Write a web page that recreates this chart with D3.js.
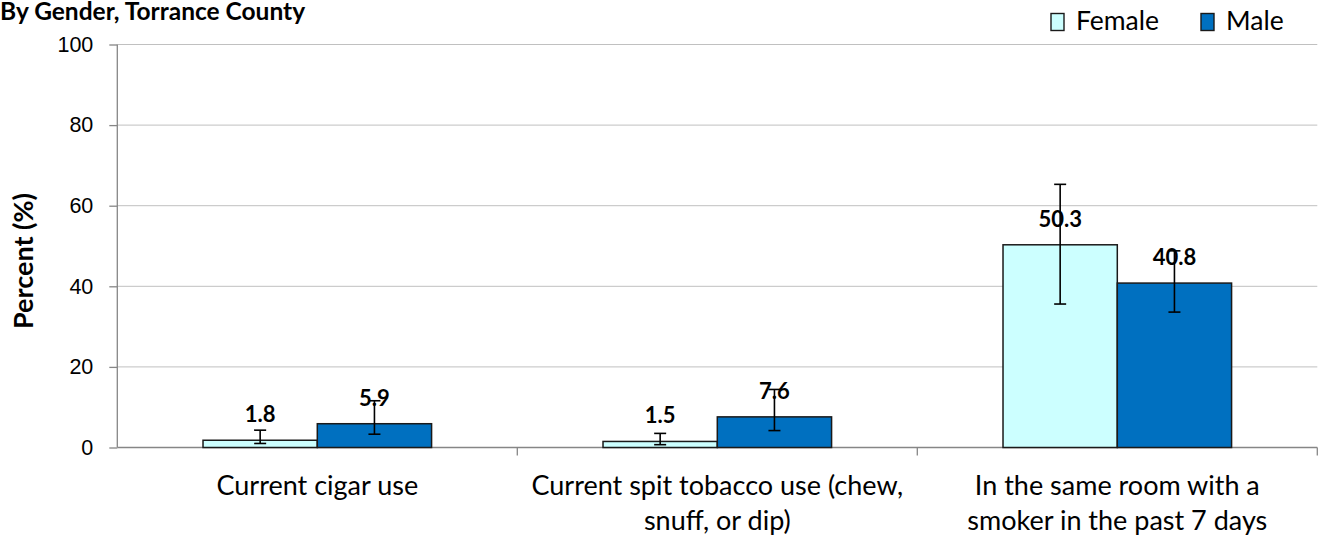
<!DOCTYPE html>
<html lang="en">
<head>
<meta charset="UTF-8">
<title>By Gender, Torrance County</title>
<style>
  body { margin: 0; background: #fff; }
  svg { font-family: Lato, "Open Sans", sans-serif; }
  .grid line { stroke: #c0c0c0; stroke-width: 1px; }
  .axis path, .axis line { stroke: #868686; stroke-width: 1.3px; }
  .axis text { font-size: 21.5px; fill: #000; }
</style>
</head>
<body>
<script src="https://d3js.org/d3.v7.min.js"></script>
<script>
// data
var categories = [
  ["Current cigar use"],
  ["Current spit tobacco use (chew,", "snuff, or dip)"],
  ["In the same room with a", "smoker in the past 7 days"]
];
var seriesNames = ["Female", "Male"];
var female = [1.8, 1.5, 50.3];
var male = [5.9, 7.6, 40.8];
var femaleLow = [1.0, 0.7, 35.6];
var femaleHigh = [4.3, 3.5, 65.3];
var maleLow = [3.3, 4.2, 33.6];
var maleHigh = [11.6, 14.4, 48.8];
var yTicks = [0, 20, 40, 60, 80, 100];
var colors = ["#ccffff", "#0070c0"];

var W = 1318, H = 539;
var margin = { top: 44.5, right: 0.7, bottom: 91.5, left: 117.3 };
var width = W - margin.left - margin.right,
    height = H - margin.top - margin.bottom;

var svg = d3.select("body").append("svg")
  .attr("width", W).attr("height", H);

var g = svg.append("g")
  .attr("transform", "translate(" + margin.left + "," + margin.top + ")");

var x0 = d3.scaleBand().domain(d3.range(categories.length)).range([0, width]).paddingInner(0).paddingOuter(0);
var x1 = d3.scaleBand().domain(seriesNames).range([0, x0.bandwidth()]).paddingInner(0).paddingOuter(0.75);
var y = d3.scaleLinear().domain([0, 100]).range([height, 0]);

// gridlines
g.append("g").attr("class", "grid")
  .selectAll("line").data(yTicks.slice(1)).enter().append("line")
  .attr("x1", 0).attr("x2", width)
  .attr("y1", function(d) { return y(d); }).attr("y2", function(d) { return y(d); });

// y axis
g.append("g").attr("class", "axis")
  .call(d3.axisLeft(y).tickValues(yTicks).tickSize(8).tickPadding(16).tickFormat(d3.format("d")))
  .call(function(a) { a.select(".domain").attr("d", "M0," + height + "V0"); });

// x axis line with category ticks
var xAxis = g.append("g").attr("class", "axis")
  .attr("transform", "translate(0," + height + ")");
xAxis.append("line").attr("x1", 0).attr("x2", width).attr("y1", 0).attr("y2", 0);
xAxis.selectAll(".xt").data(d3.range(categories.length)).enter().append("line")
  .attr("class", "xt")
  .attr("x1", function(d) { return x0(d) + x0.bandwidth(); })
  .attr("x2", function(d) { return x0(d) + x0.bandwidth(); })
  .attr("y1", 0).attr("y2", 8);

var rows = categories.map(function(c, i) {
  return [
    { s: "Female", v: female[i], lo: femaleLow[i], hi: femaleHigh[i], c: colors[0] },
    { s: "Male", v: male[i], lo: maleLow[i], hi: maleHigh[i], c: colors[1] }
  ];
});

var grp = g.selectAll(".cat").data(rows).enter().append("g")
  .attr("class", "cat")
  .attr("transform", function(d, i) { return "translate(" + x0(i) + ",0)"; });

grp.selectAll("rect").data(function(d) { return d; }).enter().append("rect")
  .attr("x", function(d) { return x1(d.s); })
  .attr("width", x1.bandwidth())
  .attr("y", function(d) { return y(d.v); })
  .attr("height", function(d) { return height - y(d.v); })
  .attr("fill", function(d) { return d.c; })
  .attr("stroke", "#1a1a1a").attr("stroke-width", 1.5);

// error bars
var eb = grp.selectAll(".eb").data(function(d) { return d; }).enter().append("g").attr("class", "eb");
eb.append("line")
  .attr("x1", function(d) { return x1(d.s) + x1.bandwidth() / 2; })
  .attr("x2", function(d) { return x1(d.s) + x1.bandwidth() / 2; })
  .attr("y1", function(d) { return y(d.lo); })
  .attr("y2", function(d) { return y(d.hi); })
  .attr("stroke", "#000").attr("stroke-width", 1.6);
["lo", "hi"].forEach(function(k) {
  eb.append("line")
    .attr("x1", function(d) { return x1(d.s) + x1.bandwidth() / 2 - 6; })
    .attr("x2", function(d) { return x1(d.s) + x1.bandwidth() / 2 + 6; })
    .attr("y1", function(d) { return y(d[k]); })
    .attr("y2", function(d) { return y(d[k]); })
    .attr("stroke", "#000").attr("stroke-width", 1.6);
});

// value labels
grp.selectAll(".lbl").data(function(d) { return d; }).enter().append("text")
  .attr("class", "lbl")
  .attr("x", function(d) { return x1(d.s) + x1.bandwidth() / 2; })
  .attr("y", function(d) { return y(d.v) - 18; })
  .attr("text-anchor", "middle")
  .attr("font-size", "22px").attr("font-weight", "bold")
  .text(function(d) { return d.v.toFixed(1); });

// category labels
var cl = g.selectAll(".cl").data(categories).enter().append("text")
  .attr("class", "cl")
  .attr("text-anchor", "middle")
  .attr("font-size", "27px")
  .attr("transform", function(d, i) { return "translate(" + (x0(i) + x0.bandwidth() / 2) + "," + (height + 47.5) + ")"; });
cl.selectAll("tspan").data(function(d) { return d; }).enter().append("tspan")
  .attr("x", 0)
  .attr("dy", function(d, i) { return i === 0 ? 0 : 35; })
  .text(function(d) { return d; });

// y axis title
svg.append("text")
  .attr("transform", "translate(33,261) rotate(-90)")
  .attr("text-anchor", "middle")
  .attr("font-size", "27px").attr("font-weight", "bold")
  .text("Percent (%)");

// title
svg.append("text")
  .attr("x", 0).attr("y", 19.5)
  .attr("font-size", "24.5px").attr("font-weight", "bold")
  .text("By Gender, Torrance County");

// legend
var legX = [1051, 1201];
var leg = svg.selectAll(".leg").data(seriesNames).enter().append("g")
  .attr("class", "leg")
  .attr("transform", function(d, i) { return "translate(" + legX[i] + ",13.5)"; });
leg.append("rect").attr("width", 13).attr("height", 17)
  .attr("fill", function(d, i) { return colors[i]; })
  .attr("stroke", "#1a1a1a").attr("stroke-width", 1.4);
leg.append("text").attr("x", 25).attr("y", 16.5)
  .attr("font-size", "26.5px")
  .text(function(d) { return d; });
</script>
</body>
</html>
